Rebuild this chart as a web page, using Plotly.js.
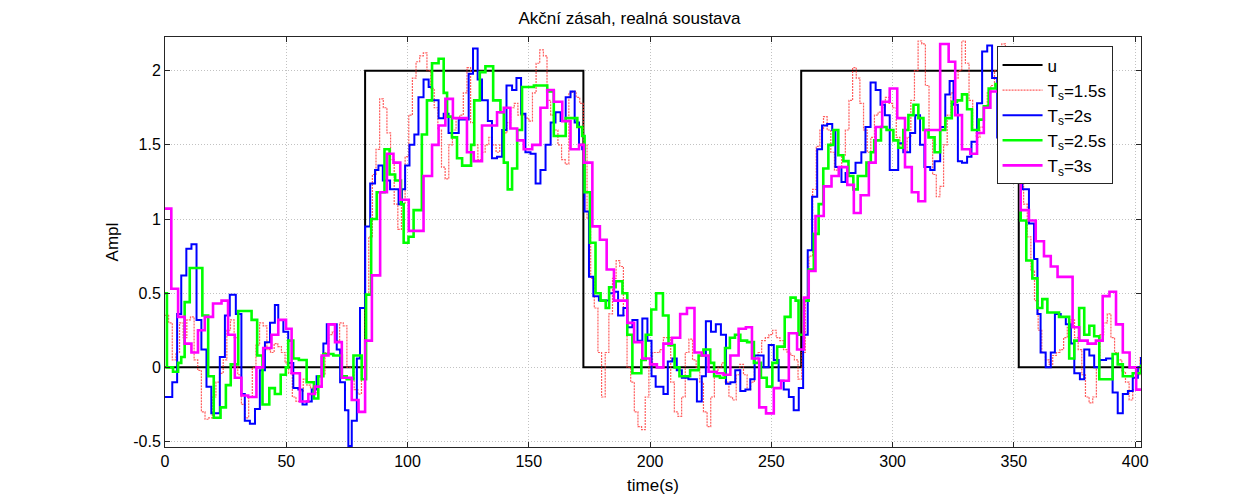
<!DOCTYPE html>
<html><head><meta charset="utf-8">
<script src="https://cdn.plot.ly/plotly-3.0.1.min.js"></script>
<style>html,body{margin:0;padding:0;background:#fff}#c{width:1259px;height:503px}</style>
</head><body><div id="c"></div>
<script>
// Reference signal u
const tU = [0, 82.5, 172.5, 262.3, 352, 402.4];
const yU = [0, 2, 0, 2, 0, 0];

// Ts = 1.5 s
const t15 = [0,1.5,3,4.5,6,7.5,9,10.5,12,13.5,15,16.5,18,19.5,21,22.5,24,25.5,27,28.5,30,31.5,33,34.5,36,37.5,39,40.5,42,43.5,45,46.5,48,49.5,51,52.5,54,55.5,57,58.5,60,61.5,63,64.5,66,67.5,69,70.5,72,73.5,75,76.5,78,79.5,81,82.5,84,85.5,87,88.5,90,91.5,93,94.5,96,97.5,99,100.5,102,103.5,105,106.5,108,109.5,111,112.5,114,115.5,117,118.5,120,121.5,123,124.5,126,127.5,129,130.5,132,133.5,135,136.5,138,139.5,141,142.5,144,145.5,147,148.5,150,151.5,153,154.5,156,157.5,159,160.5,162,163.5,165,166.5,168,169.5,171,172.5,174,175.5,177,178.5,180,181.5,183,184.5,186,187.5,189,190.5,192,193.5,195,196.5,198,199.5,201,202.5,204,205.5,207,208.5,210,211.5,213,214.5,216,217.5,219,220.5,222,223.5,225,226.5,228,229.5,231,232.5,234,235.5,237,238.5,240,241.5,243,244.5,246,247.5,249,250.5,252,253.5,255,256.5,258,259.5,261,262.5,264,265.5,267,268.5,270,271.5,273,274.5,276,277.5,279,280.5,282,283.5,285,286.5,288,289.5,291,292.5,294,295.5,297,298.5,300,301.5,303,304.5,306,307.5,309,310.5,312,313.5,315,316.5,318,319.5,321,322.5,324,325.5,327,328.5,330,331.5,333,334.5,336,337.5,339,340.5,342,343.5,345,346.5,348,349.5,351,352.5,354,355.5,357,358.5,360,361.5,363,364.5,366,367.5,369,370.5,372,373.5,375,376.5,378,379.5,381,382.5,384,385.5,387,388.5,390,391.5,393,394.5,396,397.5,399,400.5,402];
const y15 = [0.35,0.3,0.05,0.1,0.3,0.2,0.32,0.34,0.05,-0.02,-0.3,-0.35,-0.34,-0.2,-0.1,-0.04,0.05,0.25,0.32,0.2,-0.05,-0.25,-0.34,-0.2,0,0.15,0.3,0.28,0.12,0.1,0.16,0.14,0.1,0.03,-0.04,-0.2,-0.23,-0.16,-0.08,-0.12,-0.14,-0.17,-0.13,-0.05,0.1,0.22,0.24,0.18,0.3,0.28,0,0,-0.15,-0.18,0,0.49,0.88,1.3,1.47,1.81,1.75,1.58,1.4,1.1,0.93,1.1,1.42,1.7,1.95,2.06,2.1,2.12,2.0,1.88,1.75,1.6,1.35,1.27,1.5,1.6,1.68,1.7,1.85,2.02,1.65,1.5,1.4,1.45,1.5,1.55,1.5,1.45,1.5,1.58,1.65,1.75,1.78,1.7,1.7,1.68,1.66,1.85,2.05,2.14,2.1,1.8,1.7,1.6,1.5,1.4,1.37,1.85,1.86,1.82,1.78,1.5,1.0,0.6,0.4,0.1,-0.2,0.1,0.36,0.6,0.72,0.68,0.35,0,-0.1,-0.3,-0.4,-0.42,-0.2,0,0.1,0.1,0.12,0.2,0.2,-0.1,-0.3,-0.33,-0.2,0.1,0.19,0.05,0,-0.1,-0.3,-0.4,-0.2,-0.06,0,0.03,-0.1,-0.2,-0.22,-0.05,0.02,-0.05,-0.15,-0.1,0.03,0.1,0.18,0.2,0.22,0.25,0.2,0.18,0.12,0.1,0.08,0.05,-0.08,0.1,0.45,0.75,1.2,1.49,1.6,1.69,1.6,1.45,1.33,1.35,1.43,1.6,1.8,2.02,1.95,1.78,1.6,1.45,1.55,1.7,1.72,1.75,1.82,1.78,1.75,1.55,1.5,1.45,1.55,1.8,2.0,2.2,2.18,1.9,1.55,1.3,1.15,1.22,1.5,1.7,1.85,1.95,2.0,2.2,2.05,1.8,1.6,1.55,1.62,1.75,1.85,1.9,2.0,2.1,2.18,2.05,1.9,1.8,1.6,1.3,1.1,0.88,0.65,0.45,0.25,0.1,0.05,0.02,0.08,0.1,0.12,0.2,0.27,0.32,0.2,0.12,-0.05,-0.2,-0.24,-0.2,0,0.22,0.3,0.36,0.2,0.1,0.05,-0.03,-0.1,-0.22,-0.15,-0.05,0.07];

// Ts = 2 s
const t20 = [0,3,5,6.7,8.8,10.9,13,15,17.1,19.1,22.6,24.7,26.7,29.2,31.5,32.9,35,37.1,39.1,41.2,43.3,45.3,46.7,48.8,50.8,52.9,55,56.7,58.4,60.5,62.5,64.6,65.3,66.7,70.8,72.2,74.2,75.6,77,79.1,80.4,82.5,84.6,86.6,88,89.8,92.8,96.3,97.7,99,100.8,102.8,104.5,106.6,108.7,110.1,112.8,114.9,116.9,121.1,125.2,127,128.9,130.7,133.1,134.8,136.9,139,140.8,143.1,144.9,146.8,148.6,150.7,152.8,154.8,156.9,159,161,163.1,165.2,167.2,168.9,170.7,172,173,174.8,176.6,178.9,181.3,183.1,185.1,186.8,189,190.6,192.7,194.8,196.8,198.9,200.6,202.3,205.5,207.3,209.2,211,213.1,215.8,219.3,221.3,223,225.1,227.1,229.2,231.3,233.1,235.1,237.2,239.3,241.3,243.1,245,246.8,248.9,251,253,255.1,257.2,259.2,261.3,263.1,265,266.8,268.9,270.9,273,275.1,276.4,278.9,280.6,282.6,284.7,287.1,288.8,290.9,293,295,296.8,298.8,302.3,304.4,307.2,309.3,311.3,313.1,315.5,317.3,319.6,321.7,323.5,325.1,326.9,328.6,330.7,332.5,334.8,336.9,339,341,343.1,345.2,349.3,351.4,353.5,356.2,358.3,359.7,361,363.1,365.2,366.9,369.3,371.4,373.5,374.9,377.2,379,381.1,383.1,385.2,388,390.7,392.8,394.9,397,399,401.1,402.4];
const y20 = [-0.2,-0.1,0.36,0.62,0.8,0.83,0.32,0.12,-0.13,-0.31,0.07,0.35,0.49,0.36,-0.18,-0.36,-0.38,-0.28,-0.02,0.17,0.3,0.42,0.32,0.24,0.03,-0.14,-0.15,-0.25,-0.23,-0.15,-0.06,0.07,0.16,0.29,0.12,-0.1,-0.29,-0.53,-0.36,0.06,0.4,0.95,1.24,1.33,1.36,1.26,1.2,1.1,1.2,1.36,1.5,1.57,1.82,1.94,1.89,1.8,1.68,1.71,1.58,1.67,1.98,2.15,1.94,1.8,1.66,1.41,1.42,1.6,1.9,1.87,1.95,1.71,1.45,1.44,1.24,1.33,1.5,1.65,1.72,1.66,1.82,1.86,1.65,1.5,1.47,1.05,0.61,0.48,0.45,0.45,0.5,0.51,0.35,0.4,0.27,0.32,0.18,0.33,0.18,-0.06,-0.13,-0.18,0.04,0.06,-0.02,-0.07,-0.08,-0.23,-0.06,0.31,0.24,0.29,0.22,-0.11,-0.1,-0.02,-0.16,-0.15,-0.08,0.08,0.08,0,0.15,0.05,-0.09,-0.15,-0.2,-0.29,-0.14,0.22,0.79,1.15,1.47,1.63,1.64,1.6,1.35,1.25,1.31,1.31,1.38,1.45,1.62,1.92,1.87,1.77,1.7,1.33,1.51,1.45,1.58,1.7,1.5,1.35,1.33,1.39,1.62,1.84,1.93,1.77,1.39,1.38,1.42,1.52,1.78,2.13,2.17,1.95,1.55,1.55,1.6,1.5,1.2,0.97,0.73,0.36,0.1,0,0.1,0.36,0.34,0.29,0.16,-0.04,-0.08,0.12,0.08,0,0.05,0.06,-0.17,-0.31,-0.18,-0.16,-0.07,0,0.07];

// Ts = 2.5 s
const t25 = [0,0.8,3.3,5.4,6.7,8.1,10.2,15.4,17.8,20.1,22.9,25.1,27.1,30.2,35.7,38,40.2,43,45.3,47.7,49.8,50.8,52.9,55.2,58.4,61.4,63.2,65.3,69.4,72.9,74.9,77.7,81.1,82.9,85,87.3,90.5,92.6,94.9,97.3,98.4,100.4,102.5,105.9,108,110.1,112.8,114.9,116.3,118.3,120.4,122.5,126.2,127.5,129.8,132.1,135.3,138.3,139.7,141.3,143.1,145.2,147.2,152.1,157.6,160.3,165.2,170,172,173,175.2,177.5,179.6,181.7,183.1,185.8,188.6,190.6,192.7,196.4,198.2,200.5,202.5,205.3,207.6,210.1,212.1,216.5,220,222,224.8,226.4,228.8,230.9,232.9,235,237.2,240,242.8,245.7,248.1,250.4,252.4,255.5,257.9,260,261.2,263.3,265.4,267.5,269.5,271.4,273.5,275.6,277.6,279.7,281.8,283.8,285.6,289.2,291,292.4,295.2,297.5,300.3,302.3,304.4,306.5,308.6,310.6,312.7,314.8,317.3,319.6,321.7,324.4,326.5,328.6,330.7,332.7,335.5,337.6,339.6,342.4,345.5,348,350.3,352.8,355.1,357.6,359.7,361.7,363.8,368.6,372.8,374.9,376.9,379,381.1,383.1,385.2,390.7,392.8,394.9,399,402.4];
const y25 = [0.5,0,-0.03,0.03,0.07,0.44,0.67,0.35,-0.06,-0.34,-0.27,-0.12,0.02,0.38,0.32,0.08,-0.25,-0.14,-0.18,-0.05,0,0.18,0.06,0.05,-0.1,-0.21,-0.06,0.09,0.08,-0.06,-0.08,0.08,-0.08,0.49,1.0,1.18,1.47,1.3,1.26,1.1,0.84,0.88,1.06,1.57,1.8,2.05,2.08,1.85,1.69,1.55,1.41,1.36,1.5,1.8,1.99,2.03,1.8,1.72,1.38,1.2,1.34,1.6,1.89,1.9,1.86,1.56,1.68,1.62,1.56,1.18,0.84,0.5,0.45,0.4,0.54,0.58,0.5,0.22,-0.04,0.05,0.22,0.39,0.5,0.35,0.15,0,-0.06,-0.02,0.08,0.12,0.03,-0.06,-0.07,0.13,0.2,0.22,0.18,0.17,0.03,-0.07,-0.13,0.03,0.14,0.34,0.47,0.45,0.22,0.45,0.66,0.9,1.1,1.34,1.5,1.6,1.43,1.39,1.29,1.2,1.29,1.38,1.45,1.53,1.62,1.6,1.53,1.48,1.6,1.7,1.77,1.68,1.6,1.55,1.45,1.6,1.68,1.79,1.8,1.84,1.74,1.6,1.67,1.76,1.88,1.91,1.9,1.85,1.6,0.99,0.72,0.6,0.4,0.46,0.37,0.34,0.06,0.18,0.4,0.22,0.28,0.21,-0.08,0.09,0.02,-0.06,-0.04,0.02];

// Ts = 3 s
const t30 = [0,2.6,5.4,8.1,10.9,13.6,16.4,19.8,23.3,26,28.8,31.5,34.3,37.7,40.5,43.9,46.7,49.9,52.2,55.6,59.1,61.8,64.6,67.4,70.1,72.9,77,79.8,82.5,85.3,88.7,91.5,94.2,97,100.5,106.6,110.1,112.8,115.6,118.7,124.5,127.3,130.7,136.9,139.7,142.4,145.2,147.9,151.4,154.8,157.6,160.3,163.8,167.2,170.7,172.7,176.2,179.3,182.1,185.1,190.6,193.4,196.8,200,202.8,205.5,209,212.4,215.2,218.3,221.3,224.1,227.5,230.3,233.1,236.5,239.5,242,245,247.8,251,254,257.2,260.6,263.4,265.4,268.2,271.6,274.8,277.8,281.3,284,286.8,290.2,293,295.7,298.8,301.9,305.1,307.9,310.6,313.4,316.2,319.6,323.1,325.8,328.6,332,334.8,337.6,340.3,343.1,346,349,352.8,356.2,359,362.4,365.2,368,374.2,376.9,380.4,383.8,386.6,389.4,392.1,394.9,397.7,400.4,402.4];
const y30 = [1.07,0.53,0.34,0.16,0.1,0.25,0.34,0.43,0.45,0.22,-0.07,-0.19,-0.2,0,0.13,0.22,0.32,0.26,-0.04,-0.23,-0.18,-0.13,0.08,0.29,0.17,-0.07,-0.22,-0.3,0.18,0.62,1.18,1.44,1.38,1.13,0.92,1.29,1.5,1.63,1.81,1.68,1.45,1.39,1.63,1.72,1.75,1.61,1.53,1.47,1.5,1.75,1.87,1.79,1.66,1.47,1.5,1.38,0.95,0.86,0.66,0.45,0.3,0.17,0.06,0.02,0,0.16,0.2,0.36,0.4,0.1,0.08,-0.03,-0.04,-0.05,0.08,0.26,0.27,0.06,-0.27,-0.31,-0.14,-0.09,0.23,0.12,0.47,0.65,1.02,1.22,1.29,1.35,1.23,1.04,1.16,1.38,1.62,1.79,1.88,1.68,1.35,1.18,1.12,1.6,1.6,2.18,2.06,1.7,1.47,1.44,1.58,1.75,1.86,1.86,1.8,1.6,1.06,0.99,0.85,0.75,0.68,0.61,0.27,0.18,0.16,0.18,0.48,0.51,0.29,0.1,0,-0.15,-0.15];

const legendNames = ['u', 'T<sub>s</sub>=1.5s', 'T<sub>s</sub>=2s', 'T<sub>s</sub>=2.5s', 'T<sub>s</sub>=3s'];
const xTicks = [0, 50, 100, 150, 200, 250, 300, 350, 400];
const yTicks = [-0.5, 0, 0.5, 1, 1.5, 2];
const yTickText = ['-0.5', '0', '0.5', '1', '1.5', '2'];

const F = 'Liberation Sans, Arial, sans-serif';
const traces = [
  {x: tU, y: yU, name: legendNames[0], mode: 'lines', line: {shape: 'hv', color: '#000000', width: 2}},
  {x: t15, y: y15, name: legendNames[1], mode: 'lines', line: {shape: 'hv', color: 'rgba(255,40,40,0.75)', width: 1.2, dash: '2px,1px'}},
  {x: t20, y: y20, name: legendNames[2], mode: 'lines', line: {shape: 'hv', color: '#0000ff', width: 2}},
  {x: t25, y: y25, name: legendNames[3], mode: 'lines', line: {shape: 'hv', color: '#00ff00', width: 2.6}},
  {x: t30, y: y30, name: legendNames[4], mode: 'lines', line: {shape: 'hv', color: '#ff00ff', width: 2.6}}
];
const axBase = {showline: true, linecolor: '#262626', linewidth: 1, mirror: 'ticks', ticks: 'inside', ticklen: 5,
  tickcolor: '#262626', showgrid: true, gridcolor: '#c2c2c2', griddash: '1px,2px', gridwidth: 1, zeroline: false,
  tickfont: {family: F, size: 16, color: '#000'}};
const layout = {
  width: 1259, height: 503, paper_bgcolor: '#fff', plot_bgcolor: '#fff',
  margin: {l: 165, r: 118, t: 37, b: 56},
  title: {text: 'Akční zásah, realná soustava', font: {family: F, size: 17, color: '#000'}, x: 0.5, xanchor: 'center', y: 0.964, yanchor: 'middle'},
  xaxis: Object.assign({}, axBase, {range: [0, 402.4], tickvals: xTicks, ticktext: xTicks.map(String),
    title: {text: 'time(s)', font: {family: F, size: 17, color: '#000'}, standoff: 9}}),
  yaxis: Object.assign({}, axBase, {range: [-0.537, 2.227], tickvals: yTicks, ticktext: yTickText,
    title: {text: 'Ampl', font: {family: F, size: 17, color: '#000'}, standoff: 10}}),
  showlegend: true,
  legend: {x: 0.852, y: 0.977, xanchor: 'left', yanchor: 'top', bgcolor: '#ffffff', bordercolor: '#262626', borderwidth: 1,
    font: {family: F, size: 17, color: '#000'}, tracegroupgap: 0, itemwidth: 40}
};
Plotly.newPlot('c', traces, layout, {staticPlot: true, displayModeBar: false});
</script></body></html>
